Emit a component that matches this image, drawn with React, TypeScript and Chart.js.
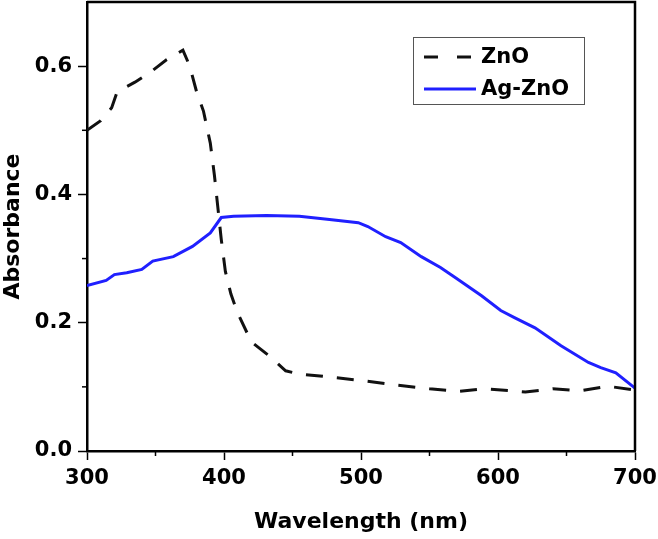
import React, { useEffect, useRef } from 'react';
import { Chart, registerables } from 'chart.js';
Chart.register(...registerables);

const znoWavelength = [300, 310, 318, 322, 335, 346, 358, 370, 375, 380, 385, 390, 393, 395, 398, 401, 405, 410, 420, 432, 445, 455, 470, 500, 525, 550, 572, 590, 610, 620, 640, 660, 680, 700];
const znoAbsorbance = [0.50, 0.515, 0.535, 0.56, 0.575, 0.59, 0.61, 0.625, 0.60, 0.56, 0.53, 0.48, 0.43, 0.39, 0.33, 0.28, 0.245, 0.215, 0.17, 0.15, 0.125, 0.12, 0.117, 0.11, 0.103, 0.097, 0.093, 0.097, 0.094, 0.092, 0.097, 0.094, 0.101, 0.095];

const agWavelength = [300, 314, 320, 329, 340, 348, 363, 377, 390, 398, 407, 431, 455, 477, 498, 505, 518, 529, 544, 558, 569, 588, 602, 612, 627, 646, 666, 675, 686, 700];
const agAbsorbance = [0.258, 0.266, 0.275, 0.278, 0.283, 0.296, 0.303, 0.319, 0.34, 0.364, 0.366, 0.367, 0.366, 0.361, 0.356, 0.35, 0.334, 0.325, 0.303, 0.286, 0.27, 0.242, 0.219, 0.208, 0.192, 0.164, 0.138, 0.13, 0.122, 0.098];

const seriesNames = ['ZnO', 'Ag-ZnO'];
const xTitle = 'Wavelength (nm)';
const yTitle = 'Absorbance';

const FONT = "'DejaVu Sans', 'Liberation Sans', Arial, sans-serif";

const framePlugin = {
  id: 'frameAndLegend',
  afterDraw(chart: any) {
    const { ctx, chartArea } = chart;
    const { left, right, top, bottom } = chartArea;
    ctx.save();
    ctx.strokeStyle = '#000';
    ctx.lineWidth = 2.5;
    ctx.beginPath();
    ctx.moveTo(left, top);
    ctx.lineTo(right, top);
    ctx.lineTo(right, bottom);
    ctx.stroke();

    ctx.lineWidth = 1.5;
    const xs = chart.scales.x;
    const ys = chart.scales.y;
    const xt = xs.ticks.map((t: any) => t.value);
    for (let i = 0; i < xt.length - 1; i++) {
      const px = xs.getPixelForValue((xt[i] + xt[i + 1]) / 2);
      ctx.beginPath();
      ctx.moveTo(px, bottom);
      ctx.lineTo(px, bottom + 5);
      ctx.stroke();
    }
    const yt = ys.ticks.map((t: any) => t.value);
    for (let i = 0; i < yt.length - 1; i++) {
      const py = ys.getPixelForValue((yt[i] + yt[i + 1]) / 2);
      ctx.beginPath();
      ctx.moveTo(left, py);
      ctx.lineTo(left - 5, py);
      ctx.stroke();
    }

    const bx = left + 326;
    const by = top + 35;
    const bw = 171;
    const bh = 67;
    ctx.fillStyle = '#fff';
    ctx.fillRect(bx, by, bw, bh);
    ctx.strokeStyle = '#555';
    ctx.lineWidth = 1;
    ctx.strokeRect(bx + 0.5, by + 0.5, bw, bh);
    chart.data.datasets.forEach((ds: any, i: number) => {
      const cy = by + 20 + i * 32;
      ctx.strokeStyle = ds.borderColor;
      ctx.lineWidth = 3;
      ctx.setLineDash(ds.borderDash && ds.borderDash.length ? [14, 19] : []);
      ctx.beginPath();
      ctx.moveTo(bx + 11, cy);
      ctx.lineTo(bx + 63, cy);
      ctx.stroke();
      ctx.setLineDash([]);
      ctx.fillStyle = '#000';
      ctx.font = `bold 21px ${FONT}`;
      ctx.textBaseline = 'middle';
      ctx.textAlign = 'left';
      ctx.fillText(ds.label, bx + 68, cy + 1);
    });
    ctx.restore();
  },
};

export default function App() {
  const ref = useRef<HTMLCanvasElement | null>(null);
  useEffect(() => {
    if (!ref.current) return;
    const chart = new Chart(ref.current, {
      type: 'line',
      data: {
        datasets: [
          {
            label: seriesNames[0],
            data: znoWavelength.map((x, i) => ({ x, y: znoAbsorbance[i] })),
            borderColor: '#111111',
            borderWidth: 3,
            borderDash: [17, 14],
            pointRadius: 0,
            tension: 0,
            fill: false,
          },
          {
            label: seriesNames[1],
            data: agWavelength.map((x, i) => ({ x, y: agAbsorbance[i] })),
            borderColor: '#2020ff',
            borderWidth: 3,
            pointRadius: 0,
            tension: 0,
            fill: false,
          },
        ],
      },
      options: {
        animation: false,
        responsive: false,
        maintainAspectRatio: false,
        layout: { padding: { top: 2, right: 23, left: 0, bottom: 0 } },
        plugins: { legend: { display: false }, tooltip: { enabled: false } },
        scales: {
          x: {
            type: 'linear',
            min: 300,
            max: 700,
            afterFit: (s: any) => { s.height = 88; s.paddingLeft = 0; s.paddingRight = 0; },
            ticks: {
              stepSize: 100,
              includeBounds: false,
              color: '#000',
              padding: 6,
              font: { family: FONT, size: 21, weight: 'bold' },
              callback: (v: any) => String(v),
            },
            grid: { drawOnChartArea: false, drawTicks: true, tickLength: 9, tickWidth: 1.5, tickColor: '#000' },
            border: { display: true, color: '#000', width: 2.5 },
            title: {
              display: true,
              text: xTitle,
              color: '#000',
              font: { family: FONT, size: 22, weight: 'bold' },
              padding: { top: 4, bottom: 4 },
            },
          },
          y: {
            type: 'linear',
            min: 0,
            max: 0.7,
            afterFit: (s: any) => { s.width = 87; s.paddingTop = 0; s.paddingBottom = 0; },
            ticks: {
              stepSize: 0.2,
              includeBounds: false,
              color: '#000',
              padding: 6,
              font: { family: FONT, size: 21, weight: 'bold' },
              callback: (v: any) => Number(v).toFixed(1),
            },
            grid: { drawOnChartArea: false, drawTicks: true, tickLength: 9, tickWidth: 1.5, tickColor: '#000' },
            border: { display: true, color: '#000', width: 2.5 },
            title: {
              display: true,
              text: yTitle,
              color: '#000',
              font: { family: FONT, size: 22, weight: 'bold' },
              padding: { top: 0, bottom: 0 },
            },
          },
        },
      },
      plugins: [framePlugin],
    });
    return () => chart.destroy();
  }, []);
  return (
    <div style={{ position: 'fixed', left: 0, top: 0, width: 658, height: 539, background: '#fff' }}>
      <canvas ref={ref} width={658} height={539} style={{ width: 658, height: 539, display: 'block' }} />
    </div>
  );
}
